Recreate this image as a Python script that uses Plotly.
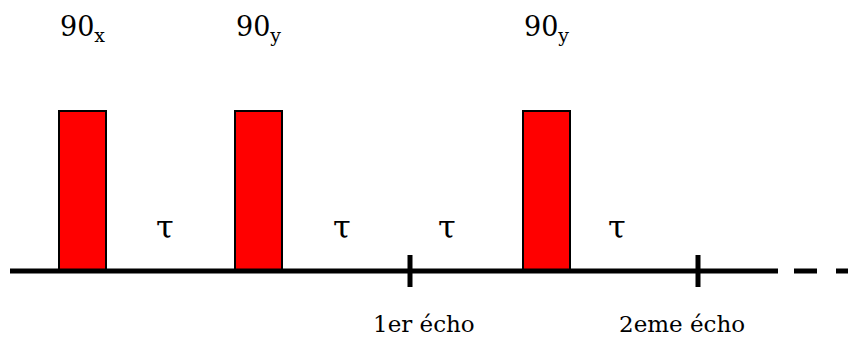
import plotly.graph_objects as go

# ---- data (time axis in arbitrary units, amplitude in pulse units) ----
pulse_centers = [82, 258, 546.5]
pulse_width = 47
pulse_heights = [1, 1, 1]
pulse_labels = ["90<sub>x</sub>", "90<sub>y</sub>", "90<sub>y</sub>"]

tau_positions = [165, 342, 447, 617]
tau_label = "τ"

echo_times = [410, 698]
echo_label_x = [424, 682]
echo_labels = ["1er écho", "2eme écho"]

axis_start = 10
axis_solid_end = 778
axis_dash_start = 794
axis_dash_end = 870

FONT = "DejaVu Serif"

fig = go.Figure()

# baseline (solid part)
fig.add_trace(go.Scatter(x=[axis_start, axis_solid_end], y=[0, 0], mode="lines",
                         line=dict(color="black", width=5), hoverinfo="skip"))
# baseline (dashed continuation)
fig.add_trace(go.Scatter(x=[axis_dash_start, axis_dash_end], y=[0, 0], mode="lines",
                         line=dict(color="black", width=5, dash="23px,19px"), hoverinfo="skip"))

# pulses
fig.add_trace(go.Bar(x=pulse_centers, y=pulse_heights, width=pulse_width, base=0,
                     marker=dict(color="#FF0000", line=dict(color="black", width=2)),
                     hoverinfo="skip"))

# echo ticks
for t in echo_times:
    fig.add_trace(go.Scatter(x=[t, t], y=[-0.1, 0.1], mode="lines",
                             line=dict(color="black", width=5), hoverinfo="skip"))

# pulse labels
for xc, lab in zip(pulse_centers, pulse_labels):
    fig.add_annotation(x=xc, y=1.515, xref="x", yref="y", text=lab, showarrow=False,
                       xanchor="center", yanchor="middle",
                       font=dict(family=FONT, size=27, color="black"))

# tau labels
for xt in tau_positions:
    fig.add_annotation(x=xt, y=0.275, xref="x", yref="y", text=tau_label, showarrow=False,
                       xanchor="center", yanchor="middle",
                       font=dict(family=FONT, size=32, color="black"))

# echo labels
for xe, lab in zip(echo_label_x, echo_labels):
    fig.add_annotation(x=xe, y=-0.33, xref="x", yref="y", text=lab, showarrow=False,
                       xanchor="center", yanchor="middle",
                       font=dict(family=FONT, size=23, color="black"))

fig.update_layout(
    width=848, height=344,
    margin=dict(l=0, r=0, t=0, b=0),
    paper_bgcolor="white", plot_bgcolor="white",
    font=dict(family=FONT, color="black"),
    showlegend=False, bargap=0,
    xaxis=dict(range=[0, 848], visible=False, fixedrange=True),
    yaxis=dict(range=[-0.45625, 1.69375], visible=False, fixedrange=True),
)

fig.write_html("out.html", post_script="document.body.style.margin='0';",
               config={"displayModeBar": False})
